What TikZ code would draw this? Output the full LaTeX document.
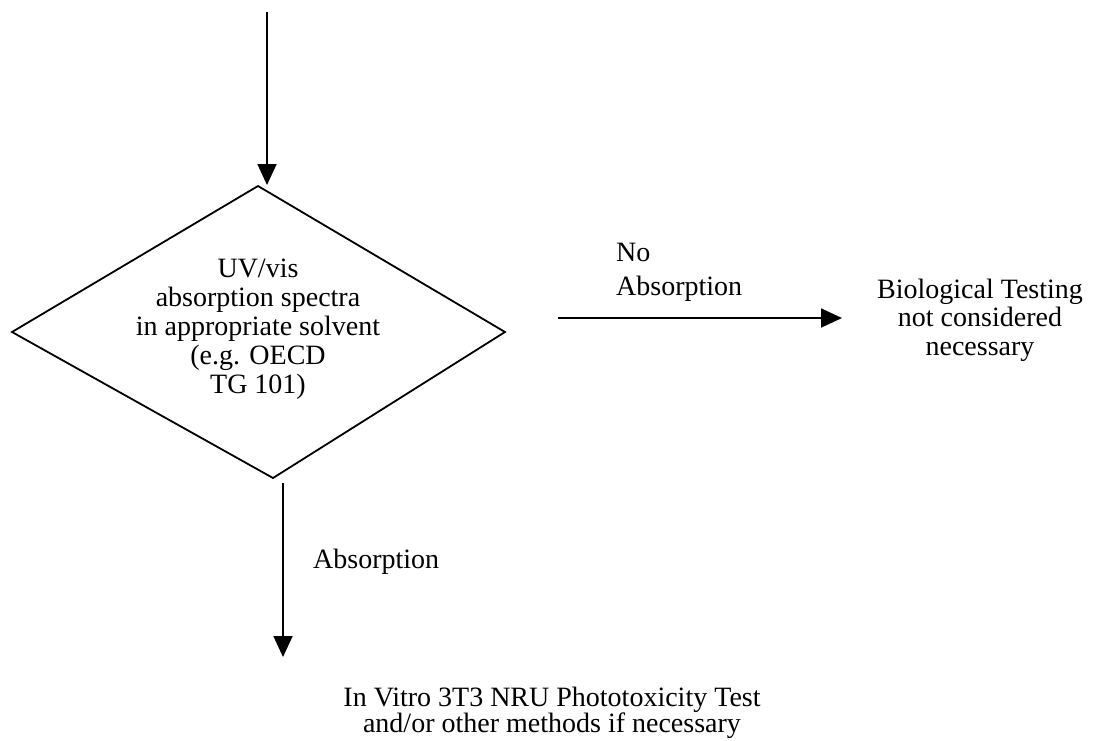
\documentclass[tikz,border=0pt]{standalone}
\usepackage{fontspec}
\setmainfont{Liberation Serif}
\usetikzlibrary{arrows.meta}
\begin{document}
\begin{tikzpicture}[x=1pt,y=-1pt,
  conn/.style={line width=1.8pt,-{Triangle[length=21pt,width=19pt]}},
  shapeline/.style={line width=1.8pt,line join=miter},
  lbl/.style={font=\fontsize{28}{28.5}\selectfont,inner sep=0pt,align=center}]
\useasboundingbox (0,0) rectangle (1105,740);
% diamond vertices
\coordinate (dt) at (258,186);
\coordinate (dl) at (12,332);
\coordinate (dr) at (505,332);
\coordinate (db) at (273,478);
\draw[shapeline] (dt) -- (dr) -- (db) -- (dl) -- cycle;
\node[lbl,font=\fontsize{28}{29}\selectfont] (dtext) at (258,329) {UV/vis\\absorption spectra\\in appropriate solvent\\(e.g. OECD\\TG 101)};
% connectors
\coordinate (start) at (267,12);
\coordinate (toptip) at (267,185);
\draw[conn] (start) -- (toptip);
\coordinate (rstart) at (558,318);
\coordinate (rtip) at (842,318);
\draw[conn] (rstart) -- (rtip);
\coordinate (bstart) at (283,483);
\coordinate (btip) at (283,657);
\draw[conn] (bstart) -- (btip);
% labels
\node[lbl,anchor=west,align=left,font=\fontsize{28}{34}\selectfont] (noabs) at (616,272) {No\\Absorption};
\node[lbl] (bio) at (980,320) {Biological Testing\\not considered\\necessary};
\node[lbl,anchor=west] (abs) at (313,562) {Absorption};
\node[lbl,font=\fontsize{28}{26.5}\selectfont] (invitro) at (552,713) {In Vitro 3T3 NRU Phototoxicity Test\\and/or other methods if necessary};
\end{tikzpicture}
\end{document}
